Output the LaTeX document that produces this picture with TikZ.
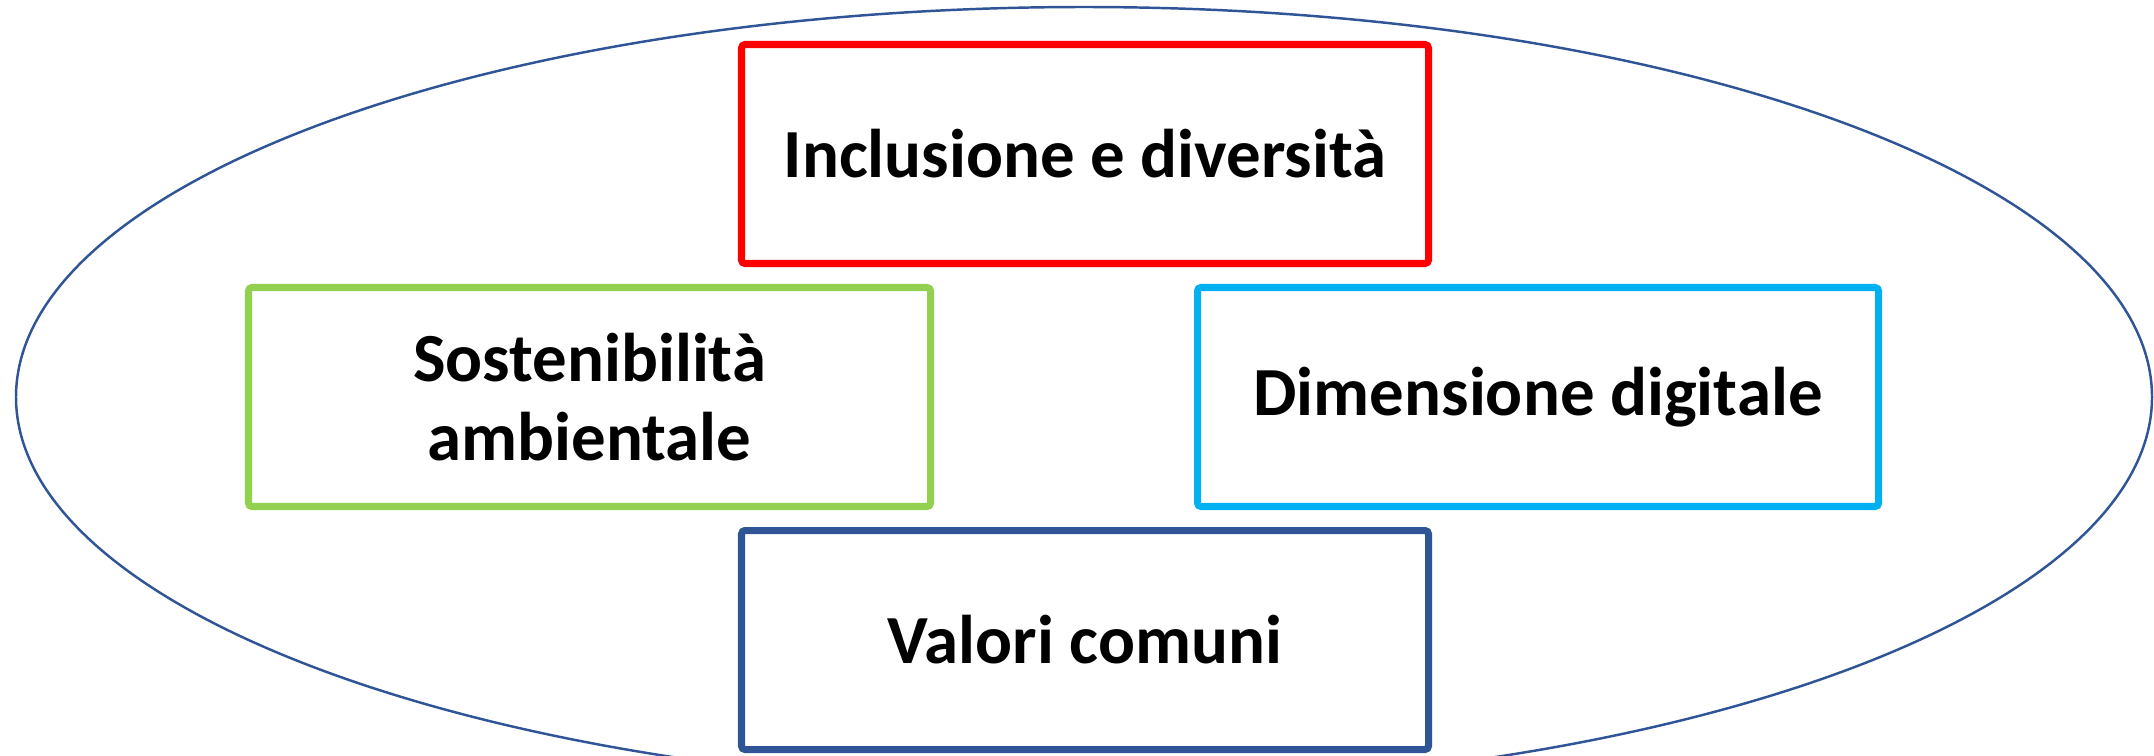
\documentclass[tikz,border=0pt]{standalone}
\usepackage{fontspec}
\setmainfont{Carlito}
\usepackage{xcolor}
\usepackage{tikz}
\usetikzlibrary{positioning}
\definecolor{boxred}{HTML}{FF0000}
\definecolor{boxgreen}{HTML}{92D050}
\definecolor{boxcyan}{HTML}{00B0F0}
\definecolor{boxblue}{HTML}{2F5597}

\begin{document}
\begin{tikzpicture}[box/.style={draw,line width=2pt,rounded corners=1pt,fill=white,minimum width=6.87cm,minimum height=2.19cm,align=center,font=\bfseries\fontsize{19.6pt}{22.5pt}\selectfont}]
\useasboundingbox (0,0) rectangle (21.54,7.55);
\clip (0,0) rectangle (21.54,7.55);
\draw[boxblue,line width=0.7pt] (10.84,3.58) ellipse [x radius=10.68cm, y radius=3.90cm];

\node[box,draw=boxred] (incl) at (10.85,6.01) {Inclusione e diversità};
\node[box,draw=boxgreen,minimum width=6.82cm] (sost) at (5.895,3.58) {Sostenibilità\\ambientale};
\node[box,draw=boxcyan,minimum width=6.81cm] (digi) at (15.38,3.58) {Dimensione digitale};
\node[box,draw=boxblue] (valo) at (10.85,1.15) {Valori comuni};
\end{tikzpicture}
\end{document}
